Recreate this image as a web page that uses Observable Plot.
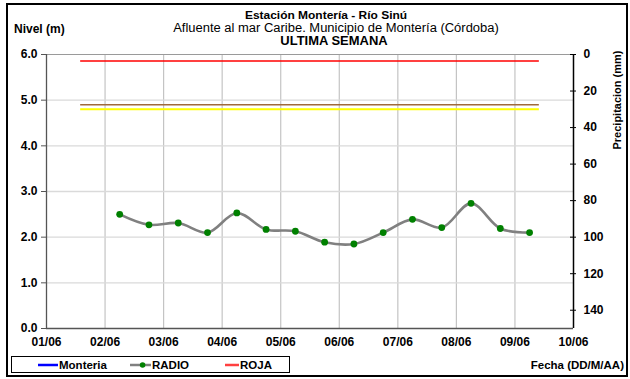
<!DOCTYPE html>
<html><head><meta charset="utf-8">
<script src="https://cdn.jsdelivr.net/npm/d3@7"></script>
<script src="https://cdn.jsdelivr.net/npm/@observablehq/plot@0.6"></script>
<style>
body{margin:0;background:#fff;}
#wrap{position:relative;width:630px;height:379px;font-family:"Liberation Sans",Arial,sans-serif;overflow:hidden;background:#fff;}
#wrap svg{position:absolute;left:0;top:0;}
.t{position:absolute;white-space:nowrap;color:#000;font-size:11px;}
.b{font-weight:bold;}
#frame{position:absolute;left:6px;top:3px;width:622px;height:374px;border:2.5px solid #000;box-sizing:border-box;pointer-events:none;}
#legend{position:absolute;left:11px;top:356px;width:279px;height:17px;border:1px solid #000;box-sizing:border-box;background:#fff;}
</style></head><body><div id="wrap"><div id="frame"></div></div><script>
// ---- data ----
const fechas = [
  "2013-06-02T06:00Z","2013-06-02T18:00Z","2013-06-03T06:00Z","2013-06-03T18:00Z",
  "2013-06-04T06:00Z","2013-06-04T18:00Z","2013-06-05T06:00Z","2013-06-05T18:00Z",
  "2013-06-06T06:00Z","2013-06-06T18:00Z","2013-06-07T06:00Z","2013-06-07T18:00Z",
  "2013-06-08T06:00Z","2013-06-08T18:00Z","2013-06-09T06:00Z"
];
const nivelesRadio = [2.50, 2.27, 2.31, 2.10, 2.53, 2.17, 2.13, 1.89, 1.85, 2.10, 2.39, 2.21, 2.74, 2.19, 2.10];
const umbralNombres = ["ROJA", "NARANJA", "AMARILLA"];
const umbralValores = [5.86, 4.90, 4.80];
const umbralInicio = "2013-06-01T14:00Z";
const umbralFin = "2013-06-09T10:00Z";
const diasTicks = ["2013-06-01","2013-06-02","2013-06-03","2013-06-04","2013-06-05","2013-06-06","2013-06-07","2013-06-08","2013-06-09","2013-06-10"];
const nivelTicks = [0, 1, 2, 3, 4, 5, 6];
const precipTicks = [0, 20, 40, 60, 80, 100, 120, 140];
const precipMax = 150;
const nivelMax = 6;
const leyendaNombres = ["Monteria", "RADIO", "ROJA"];

// ---- styles ----
const umbralColor = {ROJA: "#ff0000", NARANJA: "#a06a3a", AMARILLA: "#ffff00"};
const umbralAncho = {ROJA: 1.5, NARANJA: 1.5, AMARILLA: 2};

const rows = fechas.map((f, i) => ({fecha: new Date(f), nivel: nivelesRadio[i]}));
const umbrales = umbralNombres.map((n, i) => ({nombre: n, nivel: umbralValores[i], x1: new Date(umbralInicio), x2: new Date(umbralFin)}));
const dias = diasTicks.map(d => new Date(d + "T00:00Z"));
const precipToNivel = p => nivelMax - p * nivelMax / precipMax;

const chart = Plot.plot({
  width: 630, height: 379,
  marginLeft: 46, marginRight: 57, marginTop: 54, marginBottom: 51,
  style: {fontFamily: "Liberation Sans, Arial, sans-serif", fontSize: "12px", fontWeight: "bold", background: "transparent", overflow: "visible"},
  x: {type: "utc", domain: [dias[0], dias[dias.length - 1]], axis: null},
  y: {domain: [0, nivelMax], axis: null},
  marks: [
    Plot.ruleX(dias.slice(1, -1), {stroke: "#c4c4c4", strokeWidth: 1.2}),
    Plot.ruleY(nivelTicks.slice(1, -1), {stroke: "#dadada", strokeWidth: 1.3}),
    Plot.ruleY([nivelMax], {stroke: "#9a9a9a", strokeWidth: 1.2}),
    ...umbralNombres.map(n => Plot.ruleY(umbrales.filter(u => u.nombre === n), {y: "nivel", x1: "x1", x2: "x2", stroke: umbralColor[n], strokeWidth: umbralAncho[n]})),
    Plot.line(rows, {x: "fecha", y: "nivel", stroke: "#808080", strokeWidth: 2.6, curve: "catmull-rom"}),
    Plot.dot(rows, {x: "fecha", y: "nivel", fill: "#008000", r: 3.4}),
    Plot.ruleX([dias[0]], {stroke: "#555", strokeWidth: 1.3}),
    Plot.ruleY([0], {stroke: "#555", strokeWidth: 1.3}),
    Plot.ruleX([dias[dias.length - 1]], {stroke: "#000", strokeWidth: 1.5}),
    Plot.axisY(nivelTicks, {anchor: "left", tickSize: 5, tickPadding: 4, stroke: "#555", tickFormat: d => d.toFixed(1), label: null}),
    Plot.axisY(precipTicks.map(precipToNivel), {anchor: "right", tickSize: 6, dx: -4, stroke: "#000", tickFormat: () => "", label: null}),
    Plot.axisY(precipTicks.map(precipToNivel), {anchor: "right", tickSize: 0, tickPadding: 10, tickFormat: d => String(Math.round((nivelMax - d) * precipMax / nivelMax)), label: null}),
    Plot.axisX(dias, {anchor: "bottom", tickSize: 0, tickPadding: 9, tickFormat: d3.utcFormat("%d/%m"), label: null})
  ]
});
const wrap = document.getElementById("wrap");
wrap.insertBefore(chart, wrap.firstChild);

function addText(txt, x, y, cls, align, size, sx) {
  const d = document.createElement("div");
  d.className = "t " + (cls || "");
  d.textContent = txt;
  const fs = size || 11;
  d.style.fontSize = fs + "px";
  d.style.lineHeight = fs + "px";
  d.style.top = (y - fs / 2) + "px";
  const scale = sx ? ` scaleX(${sx})` : "";
  if (align === "center") { d.style.left = x + "px"; d.style.transform = "translateX(-50%)" + scale; }
  else if (align === "right") { d.style.right = (630 - x) + "px"; d.style.transformOrigin = "right center"; d.style.transform = scale; }
  else { d.style.left = x + "px"; d.style.transformOrigin = "left center"; d.style.transform = scale; }
  wrap.appendChild(d);
  return d;
}
addText("Estación Montería  - Río Sinú", 326, 15.5, "b", "center", 11.5, 1.04);
addText("Afluente al mar Caribe. Municipio de Montería (Córdoba)", 336, 28, "", "center", 12, 1.08);
addText("ULTIMA SEMANA", 334, 40.5, "b", "center", 12, 1.08);
addText("Nivel (m)", 14, 29, "b", "left", 12);
addText("Fecha (DD/M/AA)", 624, 366, "b", "right", 11.5);
const pr = addText("Precipitacion (mm)", 617, 100, "b", "left", 11);
pr.style.left = "617px"; pr.style.top = "100px";
pr.style.transformOrigin = "0 0";
pr.style.transform = "rotate(-90deg) translate(-50%,-50%)";

// legend
const leg = document.createElement("div");
leg.id = "legend";
wrap.appendChild(leg);
const legendStyle = [
  {color: "#0000ff", dot: false, x0: 38, x1: 58},
  {color: "#808080", dot: true, x0: 130, x1: 151},
  {color: "#ff4040", dot: false, x0: 225, x1: 239}
];
leyendaNombres.forEach((name, i) => {
  const it = legendStyle[i];
  const s = document.createElementNS("http://www.w3.org/2000/svg", "svg");
  s.setAttribute("width", it.x1 - it.x0); s.setAttribute("height", 10);
  s.style.position = "absolute"; s.style.left = it.x0 + "px"; s.style.top = "360px";
  s.innerHTML = `<line x1="0" x2="${it.x1 - it.x0}" y1="5" y2="5" stroke="${it.color}" stroke-width="2.5"/>` +
    (it.dot ? `<circle cx="${(it.x1 - it.x0) * 0.6}" cy="5" r="2.8" fill="#008000"/>` : "");
  wrap.appendChild(s);
  addText(name, it.x1 + 1, 366, "b", "left", 11.5);
});
</script></body></html>
